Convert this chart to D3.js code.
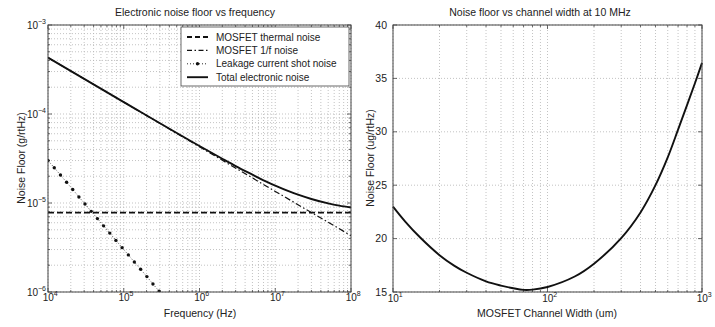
<!DOCTYPE html>
<html>
<head>
<meta charset="utf-8">
<script src="https://cdn.jsdelivr.net/npm/d3@7"></script>
<style>
  body { margin: 0; background: #fff; }
  svg { display: block; font-family: "Liberation Sans", Arial, sans-serif; }
</style>
</head>
<body>
<svg id="chart" width="715" height="327"></svg>
<script>
// left panel: noise floor vs frequency
const freqTicks = [1e4, 1e5, 1e6, 1e7, 1e8];
const freqExponents = ["4", "5", "6", "7", "8"];
const noiseTicks = [1e-6, 1e-5, 1e-4, 1e-3];
const noiseExponents = ["\u22126", "\u22125", "\u22124", "\u22123"];

const thermalFreq = [1e4, 1e8];
const thermalNoise = [7.8e-6, 7.8e-6];

const flickerFreq = [1e4, 1e5, 1e6, 1e7, 1e8];
const flickerNoise = [4.3e-4, 1.36e-4, 4.28e-5, 1.35e-5, 4.3e-6];

const shotFreq = [1.00e4, 1.21e4, 1.46e4, 1.76e4, 2.12e4, 2.56e4, 3.08e4, 3.72e4, 4.49e4, 5.42e4,
                  6.54e4, 7.88e4, 9.51e4, 1.15e5, 1.38e5, 1.67e5, 2.02e5, 2.43e5, 2.93e5];
const shotNoise = [3.00e-5, 2.49e-5, 2.06e-5, 1.71e-5, 1.42e-5, 1.17e-5, 9.73e-6, 8.06e-6, 6.68e-6, 5.54e-6,
                   4.59e-6, 3.80e-6, 3.15e-6, 2.61e-6, 2.17e-6, 1.80e-6, 1.49e-6, 1.23e-6, 1.02e-6];

const totalFreq = [1e4, 1e5, 1e6, 2e6, 3e6, 5e6, 7e6, 1e7, 1.5e7, 2e7, 3e7, 5e7, 7e7, 1e8];
const totalNoise = [4.31e-4, 1.362e-4, 4.37e-5, 3.14e-5, 2.60e-5, 2.08e-5, 1.80e-5, 1.57e-5, 1.36e-5,
                    1.24e-5, 1.11e-5, 9.9e-6, 9.34e-6, 8.9e-6];

const legendLabels = ["MOSFET thermal noise", "MOSFET 1/f noise", "Leakage current shot noise", "Total electronic noise"];

// right panel: noise floor vs channel width
const widthTicks = [10, 100, 1000];
const widthExponents = ["1", "2", "3"];
const floorTicks = [15, 20, 25, 30, 35, 40];
const widthUm = [10, 12, 15, 20, 25, 30, 40, 50, 60, 70, 80, 100, 150, 200, 300, 400, 500, 600, 700, 800, 900, 1000];
const floorUg = [23.0, 21.6, 20.1, 18.45, 17.45, 16.8, 16.0, 15.6, 15.35, 15.2, 15.22, 15.47, 16.45, 17.65,
                 20.05, 22.45, 25.0, 27.6, 30.2, 32.5, 34.55, 36.45];

const svg = d3.select("#chart");
const frameColor = "#444";
const gridColor = "#b4b4b4";

function minorLogValues(lo, hi) {
    const out = [];
    for (let d = lo; d < hi; d *= 10) {
        for (let k = 2; k <= 9; k++) out.push(d * k);
    }
    return out;
}

function drawFrame(g, x, y, xMajor, xMinor, yMajor, yMinor) {
    const [x0, x1] = x.range();
    const [y0, y1] = y.range();

    // dotted grid
    const grid = g.append("g").attr("stroke", gridColor).attr("stroke-width", 0.8).attr("stroke-dasharray", "1,2");
    xMajor.concat(xMinor).forEach(v => {
        grid.append("line").attr("x1", x(v)).attr("x2", x(v)).attr("y1", y0).attr("y2", y1);
    });
    yMajor.concat(yMinor).forEach(v => {
        grid.append("line").attr("x1", x0).attr("x2", x1).attr("y1", y(v)).attr("y2", y(v));
    });

    // inward ticks on all four sides
    const ticks = g.append("g").attr("stroke", frameColor).attr("stroke-width", 0.8);
    xMajor.forEach(v => {
        ticks.append("line").attr("x1", x(v)).attr("x2", x(v)).attr("y1", y0).attr("y2", y0 - 4);
        ticks.append("line").attr("x1", x(v)).attr("x2", x(v)).attr("y1", y1).attr("y2", y1 + 4);
    });
    xMinor.forEach(v => {
        ticks.append("line").attr("x1", x(v)).attr("x2", x(v)).attr("y1", y0).attr("y2", y0 - 2);
        ticks.append("line").attr("x1", x(v)).attr("x2", x(v)).attr("y1", y1).attr("y2", y1 + 2);
    });
    yMajor.forEach(v => {
        ticks.append("line").attr("x1", x0).attr("x2", x0 + 4).attr("y1", y(v)).attr("y2", y(v));
        ticks.append("line").attr("x1", x1).attr("x2", x1 - 4).attr("y1", y(v)).attr("y2", y(v));
    });
    yMinor.forEach(v => {
        ticks.append("line").attr("x1", x0).attr("x2", x0 + 2).attr("y1", y(v)).attr("y2", y(v));
        ticks.append("line").attr("x1", x1).attr("x2", x1 - 2).attr("y1", y(v)).attr("y2", y(v));
    });
}

function drawBox(g, x, y) {
    const [x0, x1] = x.range();
    const [y0, y1] = y.range();
    g.append("rect")
        .attr("x", x0).attr("y", y1)
        .attr("width", x1 - x0).attr("height", y0 - y1)
        .attr("fill", "none").attr("stroke", frameColor).attr("stroke-width", 1);
}

function powerLabel(g, px, py, exponent, anchor) {
    const t = g.append("text")
        .attr("x", px).attr("y", py)
        .attr("text-anchor", anchor)
        .attr("font-size", 10)
        .attr("fill", "#222");
    t.append("tspan").text("10");
    t.append("tspan").attr("dy", -5).attr("font-size", 7).text(exponent);
}

// ---------------- left panel ----------------
const xF = d3.scaleLog().domain([1e4, 1e8]).range([48, 351]);
const yN = d3.scaleLog().domain([1e-6, 1e-3]).range([292, 25]);

const left = svg.append("g");
drawFrame(left, xF, yN, freqTicks, minorLogValues(1e4, 1e8), noiseTicks, minorLogValues(1e-6, 1e-3));

svg.append("clipPath").attr("id", "clipLeft")
    .append("rect").attr("x", 48).attr("y", 25).attr("width", 303).attr("height", 267);

const plotLeft = left.append("g").attr("clip-path", "url(#clipLeft)");

const lineF = d3.line().x(d => xF(d[0])).y(d => yN(d[1]));
const curveF = d3.line().x(d => xF(d[0])).y(d => yN(d[1])).curve(d3.curveMonotoneX);

plotLeft.append("path")
    .attr("d", lineF(d3.zip(thermalFreq, thermalNoise)))
    .attr("fill", "none").attr("stroke", "#111").attr("stroke-width", 1.8)
    .attr("stroke-dasharray", "6,3");

plotLeft.append("path")
    .attr("d", lineF(d3.zip(flickerFreq, flickerNoise)))
    .attr("fill", "none").attr("stroke", "#111").attr("stroke-width", 1.2)
    .attr("stroke-dasharray", "6,2.5,1.5,2.5");

plotLeft.append("path")
    .attr("d", lineF(d3.zip(shotFreq, shotNoise)))
    .attr("fill", "none").attr("stroke", "#333").attr("stroke-width", 0.9)
    .attr("stroke-dasharray", "1,2");

plotLeft.selectAll("circle.shot")
    .data(d3.zip(shotFreq, shotNoise))
    .join("circle")
    .attr("class", "shot")
    .attr("cx", d => xF(d[0])).attr("cy", d => yN(d[1]))
    .attr("r", 1.7).attr("fill", "#111");

plotLeft.append("path")
    .attr("d", curveF(d3.zip(totalFreq, totalNoise)))
    .attr("fill", "none").attr("stroke", "#111").attr("stroke-width", 1.9);

drawBox(left, xF, yN);

freqTicks.forEach((v, i) => powerLabel(left, xF(v) - 5.3, 301, freqExponents[i], "start"));
noiseTicks.forEach((v, i) => powerLabel(left, 46, yN(v) + 4, noiseExponents[i], "end"));

left.append("text").attr("x", 200).attr("y", 317).attr("text-anchor", "middle")
    .attr("font-size", 10.5).attr("fill", "#222").text("Frequency (Hz)");
left.append("text").attr("transform", "translate(25,158) rotate(-90)").attr("text-anchor", "middle")
    .attr("font-size", 10.5).attr("fill", "#222").text("Noise Floor (g/rtHz)");
left.append("text").attr("x", 195).attr("y", 16).attr("text-anchor", "middle")
    .attr("font-size", 10.5).attr("fill", "#222").text("Electronic noise floor vs frequency");

// legend
const legend = left.append("g");
legend.append("rect").attr("x", 181).attr("y", 27).attr("width", 168).attr("height", 59)
    .attr("fill", "#fff").attr("stroke", frameColor).attr("stroke-width", 0.8);
const legendStyles = [
    { dash: "5,3", width: 1.8 },
    { dash: "5,2.5,1.5,2.5", width: 1.2 },
    { dash: "1,2", width: 0.9 },
    { dash: null, width: 1.9 }
];
legendLabels.forEach((label, i) => {
    const ly = 37 + i * 13.4;
    legend.append("line").attr("x1", 187).attr("x2", 208).attr("y1", ly).attr("y2", ly)
        .attr("stroke", "#111").attr("stroke-width", legendStyles[i].width)
        .attr("stroke-dasharray", legendStyles[i].dash);
    if (i === 2) {
        legend.append("circle").attr("cx", 197.5).attr("cy", ly).attr("r", 1.7).attr("fill", "#111");
    }
    legend.append("text").attr("x", 216).attr("y", ly + 3.5)
        .attr("font-size", 10).attr("fill", "#222").text(label);
});

// ---------------- right panel ----------------
const xW = d3.scaleLog().domain([10, 1000]).range([393, 702]);
const yU = d3.scaleLinear().domain([15, 40]).range([292, 25]);

const right = svg.append("g");
drawFrame(right, xW, yU, widthTicks, minorLogValues(10, 1000), floorTicks, []);

right.append("path")
    .attr("d", d3.line().x(d => xW(d[0])).y(d => yU(d[1])).curve(d3.curveCatmullRom.alpha(0.5))(d3.zip(widthUm, floorUg)))
    .attr("fill", "none").attr("stroke", "#111").attr("stroke-width", 1.9);

drawBox(right, xW, yU);

widthTicks.forEach((v, i) => powerLabel(right, xW(v) - 5.3, 302, widthExponents[i], "start"));
floorTicks.forEach(v => {
    right.append("text").attr("x", 387).attr("y", yU(v) + 3.5).attr("text-anchor", "end")
        .attr("font-size", 10.5).attr("fill", "#222").text(v);
});

right.append("text").attr("x", 547).attr("y", 317).attr("text-anchor", "middle")
    .attr("font-size", 10.5).attr("fill", "#222").text("MOSFET Channel Width (um)");
right.append("text").attr("transform", "translate(374,158) rotate(-90)").attr("text-anchor", "middle")
    .attr("font-size", 10.5).attr("fill", "#222").text("Noise Floor (ug/rtHz)");
right.append("text").attr("x", 540).attr("y", 16).attr("text-anchor", "middle")
    .attr("font-size", 10.5).attr("fill", "#222").text("Noise floor vs channel width at 10 MHz");
</script>
</body>
</html>
